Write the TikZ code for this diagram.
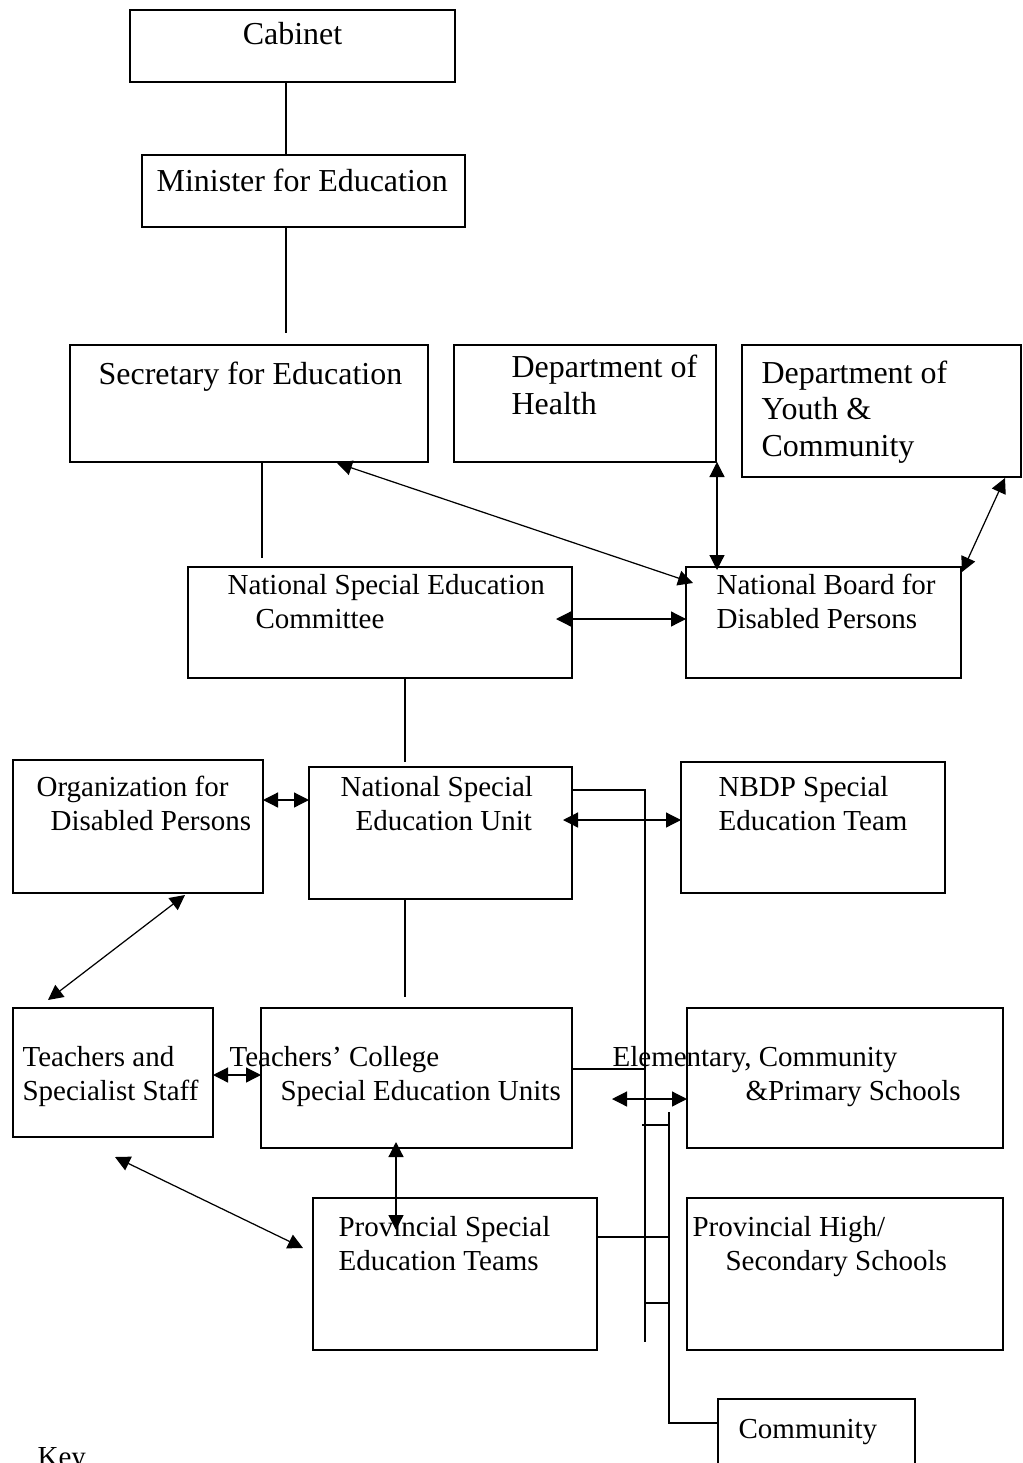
\documentclass[tikz,border=0pt]{standalone}
\usepackage{fontspec}
\setmainfont{Liberation Serif}
\usepackage{tikz}
\usetikzlibrary{arrows.meta,calc}

\begin{document}
\begin{tikzpicture}[x=0.02cm,y=-0.02cm,line width=0.7pt,
    box/.style 2 args={draw,anchor=north west,inner sep=0pt,outer sep=0pt,
      minimum width=#1*0.02cm,minimum height=#2*0.02cm},
    txt/.style={anchor=base west,inner sep=0pt,align=left,
      font=\fontsize{16.5}{18.8}\selectfont},
    bigtxt/.style={txt,font=\fontsize{18.2}{20.5}\selectfont},
    both/.style={{Triangle[length=0.3cm,width=0.3cm]}-{Triangle[length=0.3cm,width=0.3cm]}}]
  \useasboundingbox (0,0) rectangle (1023,1463);
  \clip (0,0) rectangle (1023,1463);

  % boxes
  \node[box={325}{72}] (cab) at (130,10) {};
  \node[box={323}{72}] (min) at (142,155) {};
  \node[box={358}{117}] (sec) at (70,345) {};
  \node[box={262}{117}] (hlth) at (454,345) {};
  \node[box={279}{132}] (yth) at (742,345) {};
  \node[box={384}{111}] (nsec) at (188,567) {};
  \node[box={275}{111}] (nbdp) at (686,567) {};
  \node[box={250}{133}] (org) at (13,760) {};
  \node[box={263}{132}] (nseu) at (309,767) {};
  \node[box={264}{131}] (team) at (681,762) {};
  \node[box={200}{129}] (tch) at (13,1008) {};
  \node[box={311}{140}] (col) at (261,1008) {};
  \node[box={316}{140}] (elem) at (687,1008) {};
  \node[box={284}{152}] (pst) at (313,1198) {};
  \node[box={316}{152}] (phs) at (687,1198) {};
  \node[box={197}{90}] (comm) at (718,1399) {};

  % texts (anchored on the baseline of the last line)
  \node[bigtxt,anchor=base] (cab-t) at ($(cab.north)+(0,35)$) {Cabinet};
  \node[bigtxt] (min-t) at ($(min.north west)+(14,37)$) {Minister for Education};
  \node[bigtxt] (sec-t) at ($(sec.north west)+(28,39)$) {Secretary for Education};
  \node[bigtxt] (hlth-t) at ($(hlth.north west)+(57,69)$) {Department of\\Health};
  \node[bigtxt] (yth-t) at ($(yth.north west)+(19,111)$) {Department of\\Youth \&\\Community};
  \node[txt] (nsec-t) at ($(nsec.north west)+(39,61)$) {National Special Education\\\hspace*{0.56cm}Committee};
  \node[txt] (nbdp-t) at ($(nbdp.north west)+(30,61)$) {National Board for\\Disabled Persons};
  \node[txt] (org-t) at ($(org.north west)+(23,70)$) {Organization for\\\hspace*{0.28cm}Disabled Persons};
  \node[txt] (nseu-t) at ($(nseu.north west)+(31,63)$) {National Special\\\hspace*{0.3cm}Education Unit};
  \node[txt] (team-t) at ($(team.north west)+(37,68)$) {NBDP Special\\Education Team};
  \node[txt] (tch-t) at ($(tch.north west)+(9,92)$) {Teachers and\\Specialist Staff};
  \node[txt] (col-t) at ($(col.north west)+(-32,92)$) {Teachers' College\\\hspace*{1.02cm}Special Education Units};
  \node[txt] (elem-t) at ($(elem.north west)+(-75,92)$) {Elementary, Community\\\hspace*{2.66cm}\&Primary Schools};
  \node[txt] (pst-t) at ($(pst.north west)+(25,72)$) {Provincial Special\\Education Teams};
  \node[txt] (phs-t) at ($(phs.north west)+(5,72)$) {Provincial High/\\\hspace*{0.66cm}Secondary Schools};
  \node[txt] (comm-t) at ($(comm.north west)+(20,39)$) {Community};
  \node[txt] (key) at (37,1466) {Key};

  % plain links
  \coordinate (min-end) at (286,333);
  \coordinate (sec-end) at (262,558);
  \coordinate (nsec-end) at (405,762);
  \coordinate (nseu-end) at (405,997);
  \coordinate (bus1) at (645,790);
  \coordinate (bus1-end) at (645,1342);
  \coordinate (bus2) at (669,1112);
  \draw ($(cab.south west)+(156,0)$) -- ($(min.north west)+(144,0)$);
  \draw ($(min.south west)+(144,0)$) -- (min-end);
  \draw ($(sec.south west)+(192,0)$) -- (sec-end);
  \draw ($(nsec.south west)+(217,0)$) -- (nsec-end);
  \draw ($(nseu.south west)+(96,0)$) -- (nseu-end);
  \draw ($(nseu.north east)+(0,23)$) -- (bus1) -- (bus1-end);
  \draw ($(col.north east)+(0,61)$) -- ++(73,0);
  \draw ($(pst.north east)+(0,39)$) -- ++(72,0);
  \draw (642,1125) -- (669,1125);
  \draw (645,1303) -- (669,1303);
  \draw (bus2) |- ($(comm.north west)+(0,24)$);

  % two-way links
  \draw[both] ($(sec.south west)+(267,1)$) -- ($(nbdp.north west)+(7,16)$);
  \draw[both] ($(hlth.south east)+(1,0)$) -- ($(nbdp.north west)+(31,3)$);
  \draw[both] ($(yth.south east)+(-16,1)$) -- ($(nbdp.north east)+(1,5)$);
  \draw[both] ($(nsec.north east)+(-16,52)$) -- ($(nbdp.north west)+(0,52)$);
  \draw[both] ($(org.north east)+(0,40)$) -- ($(nseu.north west)+(0,33)$);
  \draw[both] ($(nseu.north east)+(-9,53)$) -- ($(team.north west)+(0,58)$);
  \draw[both] ($(org.south west)+(172,2)$) -- ($(tch.north west)+(35,-8)$);
  \draw[both] ($(tch.north east)+(0,67)$) -- ($(col.north west)+(0,67)$);
  \draw[both] ($(col.north east)+(40,91)$) -- ($(elem.north west)+(0,91)$);
  \draw[both] ($(col.south west)+(135,-6)$) -- ($(pst.north west)+(83,32)$);
  \draw[both] ($(tch.south west)+(102,20)$) -- ($(pst.north west)+(-10,50)$);
\end{tikzpicture}
\end{document}
